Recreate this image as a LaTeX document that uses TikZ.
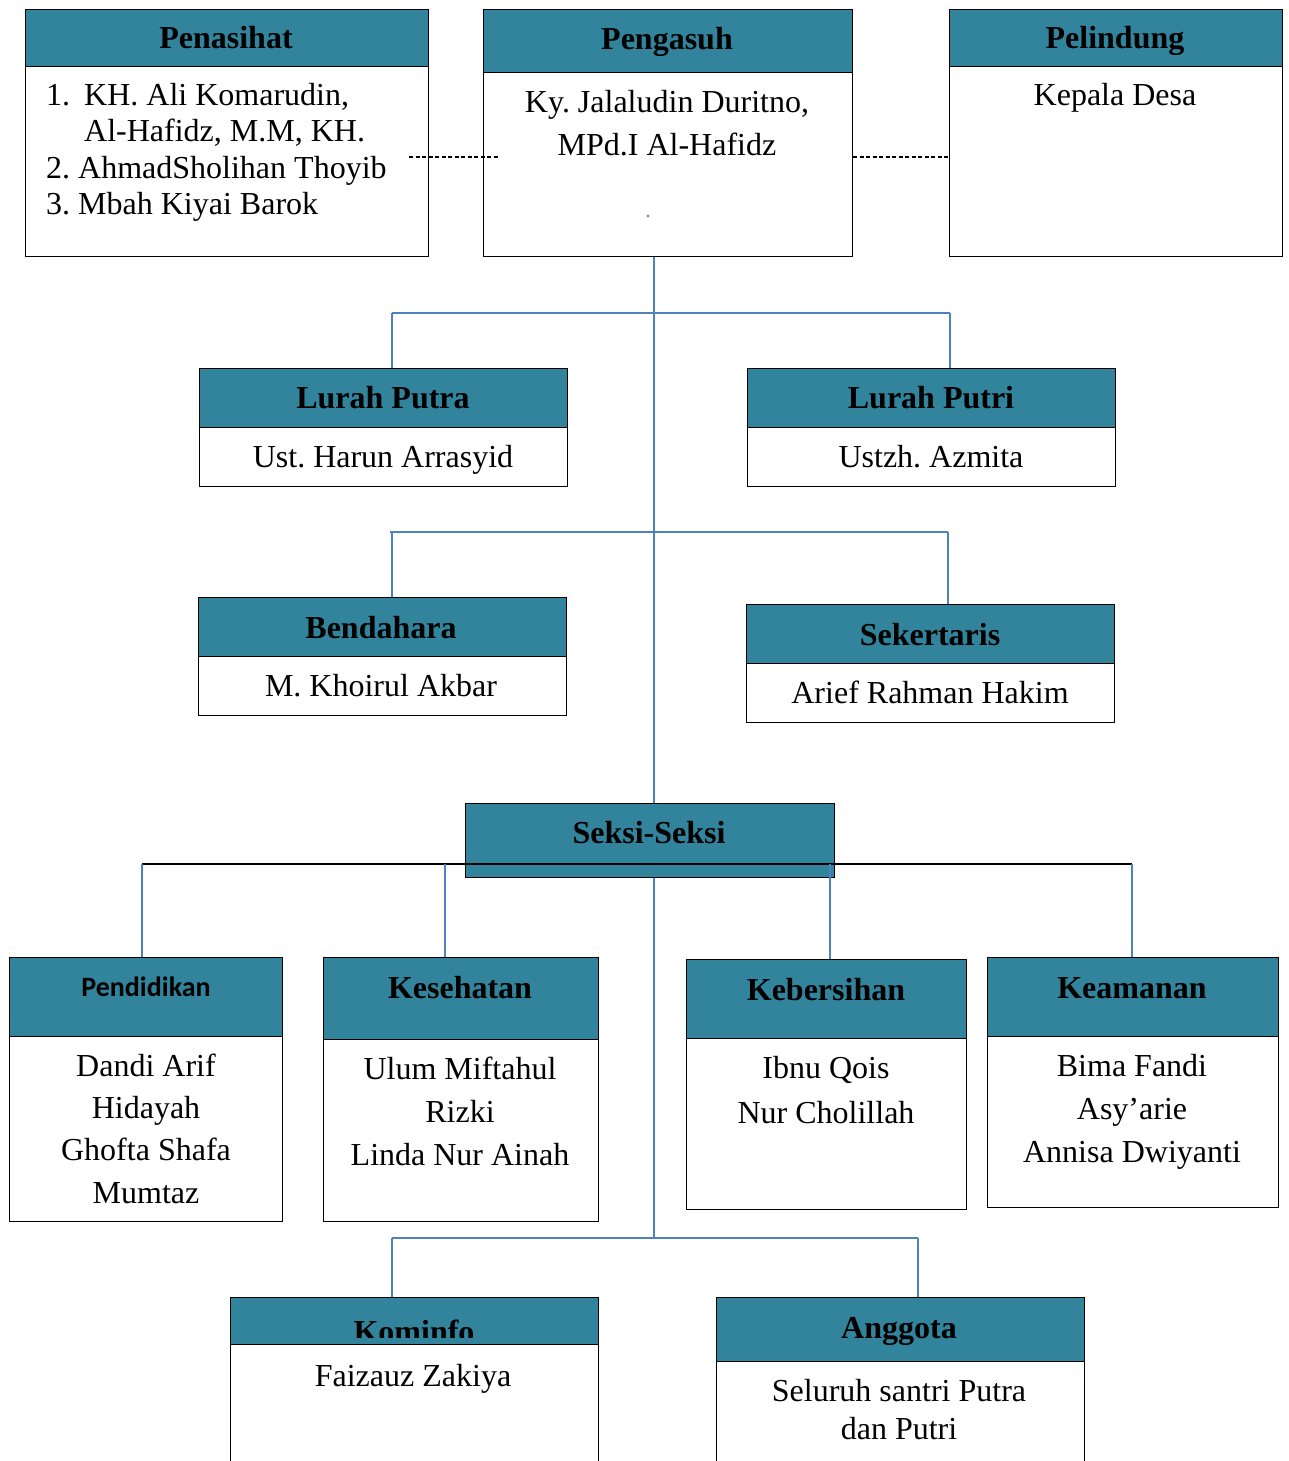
\documentclass[tikz,border=0pt]{standalone}
\usepackage{fontspec}
\setmainfont{Liberation Serif}
\newfontfamily\calfont{Carlito}
\definecolor{tealhd}{HTML}{31849B}
\definecolor{connblue}{HTML}{4F81BD}
\newcommand\bodyfont{\fontsize{32}{38}\selectfont}
\newcommand\headfont{\fontsize{32}{38}\selectfont\bfseries}
\frenchspacing
\tikzset{
  frame/.style={draw=black, fill=white, line width=1.2pt, inner sep=0pt, anchor=north west},
  headbox/.style={draw=black, fill=tealhd, line width=1.2pt, inner sep=0pt, anchor=north west},
  conn/.style={draw=connblue, line width=1.6pt},
  blackconn/.style={draw=black, line width=1.6pt},
  dashconn/.style={draw=black, line width=1.1pt, dash pattern=on 4pt off 2.5pt},
  ttl/.style={anchor=base, inner sep=0pt, font=\headfont},
  txt/.style={anchor=base, inner sep=0pt, font=\bodyfont},
  ltxt/.style={anchor=base west, inner sep=0pt, font=\bodyfont},
}
\newcommand\orgbox[6]{%
  \pgfmathsetmacro\bw{#4-#2}\pgfmathsetmacro\bh{#5-#3}\pgfmathsetmacro\hh{#6-#3}%
  \node[frame, minimum width=\bw pt, minimum height=\bh pt] (#1) at (#2,#3) {};
  \node[headbox, minimum width=\bw pt, minimum height=\hh pt] (#1h) at (#2,#3) {};
}
\begin{document}
\begin{tikzpicture}[x=1pt,y=-1pt]
\clip (0,0) rectangle (1288,1461);
\fill[white] (0,0) rectangle (1288,1461);
% junction coordinates
\coordinate (j1) at (654,313);
\coordinate (j1l) at (392,313);
\coordinate (j1r) at (950,313);
\coordinate (j2) at (654,532);
\coordinate (j2l) at (390,532);
\coordinate (j2r) at (948,532);
\coordinate (j2lv) at (392,532);
\coordinate (j3) at (654,1238);
\coordinate (j3l) at (392,1238);
\coordinate (j3r) at (918,1238);
\coordinate (top) at (654,256);
\coordinate (bl) at (142,864);
\coordinate (br) at (1132,864);
\coordinate (b2) at (445,864);
\coordinate (b3) at (830,864);

% blue connectors (under boxes)
\draw[conn] (top) -- (j3);
\draw[conn] (j1l) -- (j1r);
\draw[conn] (j2l) -- (j2r);
\draw[conn] (j3l) -- (j3r);

% boxes
\orgbox{pns}{25}{9}{428}{256}{66}
\orgbox{pgs}{483}{9}{852}{256}{72}
\orgbox{pld}{949}{9}{1282}{256}{66}
\orgbox{lpa}{199}{368}{567}{486}{427}
\orgbox{lpi}{747}{368}{1115}{486}{427}
\orgbox{bnd}{198}{597}{566}{715}{656}
\orgbox{sek}{746}{604}{1114}{722}{663}
\node[headbox, minimum width=369pt, minimum height=74pt] (sks) at (465,803) {};
\orgbox{pdd}{9}{957}{282}{1221}{1036}
\orgbox{ksh}{323}{957}{598}{1221}{1039}
\orgbox{kbr}{686}{959}{966}{1209}{1038}
\orgbox{kmn}{987}{957}{1278}{1207}{1036}
\orgbox{kom}{230}{1297}{598}{1480}{1344}
\orgbox{ang}{716}{1297}{1084}{1480}{1361}

% vertical drops
\draw[conn] (j1l) -- (lpa.north -| j1l);
\draw[conn] (j1r) -- (lpi.north -| j1r);
\draw[conn] (j2lv) -- (bnd.north -| j2lv);
\draw[conn] (j2r) -- (sek.north -| j2r);
\draw[conn] (sks.south -| j2) -- (j3);
\draw[conn] (j3l) -- (kom.north -| j3l);
\draw[conn] (j3r) -- (ang.north -| j3r);
\draw[blackconn] (bl) -- (br);
\draw[conn] (bl) -- (pdd.north -| bl);
\draw[conn] (b2) -- (ksh.north -| b2);
\draw[conn] (b3) -- (kbr.north -| b3);
\draw[conn] (br) -- (kmn.north -| br);

% dashed links
\coordinate (dl) at (409,157);
\coordinate (dr) at (498,157);
\draw[dashconn] (dl) -- (dr);
\draw[dashconn] (pgs.east |- dl) -- (pld.west |- dl);
\fill[connblue] (648,216) circle (1.3pt);

% titles
\node[ttl] (t1) at (226,49) {Penasihat};
\node[ttl] (t2) at (667,50) {Pengasuh};
\node[ttl] (t3) at (1115,49) {Pelindung};
\node[ttl] (t4) at (383,408) {Lurah Putra};
\node[ttl] (t5) at (931,408) {Lurah Putri};
\node[ttl] (t6) at (381,638) {Bendahara};
\node[ttl] (t7) at (930,645) {Sekertaris};
\node[ttl] (t8) at (649,843) {Seksi-Seksi};
\node[anchor=base, inner sep=0pt, font=\calfont\fontsize{28}{34}\selectfont\bfseries] (t9) at (146,996) {Pendidikan};
\node[ttl] (t10) at (460,998) {Kesehatan};
\node[ttl] (t11) at (826,1000) {Kebersihan};
\node[ttl] (t12) at (1132,998) {Keamanan};
\begin{scope}
\clip (230,1297) rectangle (598,1337);
\node[ttl] (t13) at (414,1342) {Kominfo};
\end{scope}
\node[ttl] (t14) at (899,1338) {Anggota};

% body texts
\node[ltxt] (p1) at (46,106) {1.};
\node[ltxt] (p1b) at (84,106) {KH. Ali Komarudin,};
\node[ltxt] (p2) at (84,142) {Al-Hafidz, M.M, KH.};
\node[ltxt] (p3) at (46,178) {2. AhmadSholihan Thoyib};
\node[ltxt] (p4) at (46,214) {3. Mbah Kiyai Barok};
\node[txt] (g1) at (667,113) {Ky. Jalaludin Duritno,};
\node[txt] (g2) at (667,156) {MPd.I Al-Hafidz};
\node[txt] (l1) at (1115,106) {Kepala Desa};
\node[txt] (u1) at (383,467) {Ust. Harun Arrasyid};
\node[txt] (u2) at (931,467) {Ustzh. Azmita};
\node[txt] (b1) at (381,696) {M. Khoirul Akbar};
\node[txt] (s1) at (930,703) {Arief Rahman Hakim};
\node[txt] (d1) at (146,1076) {Dandi Arif};
\node[txt] (d2) at (146,1118) {Hidayah};
\node[txt] (d3) at (146,1160) {Ghofta Shafa};
\node[txt] (d4) at (146,1203) {Mumtaz};
\node[txt] (k1) at (460,1079) {Ulum Miftahul};
\node[txt] (k2) at (460,1122) {Rizki};
\node[txt] (k3) at (460,1165) {Linda Nur Ainah};
\node[txt] (e1) at (826,1078) {Ibnu Qois};
\node[txt] (e2) at (826,1123) {Nur Cholillah};
\node[txt] (m1) at (1132,1076) {Bima Fandi};
\node[txt] (m2) at (1132,1119) {Asy’arie};
\node[txt] (m3) at (1132,1162) {Annisa Dwiyanti};
\node[txt] (f1) at (413,1386) {Faizauz Zakiya};
\node[txt] (a1) at (899,1401) {Seluruh santri Putra};
\node[txt] (a2) at (899,1439) {dan Putri};
\end{tikzpicture}
\end{document}
